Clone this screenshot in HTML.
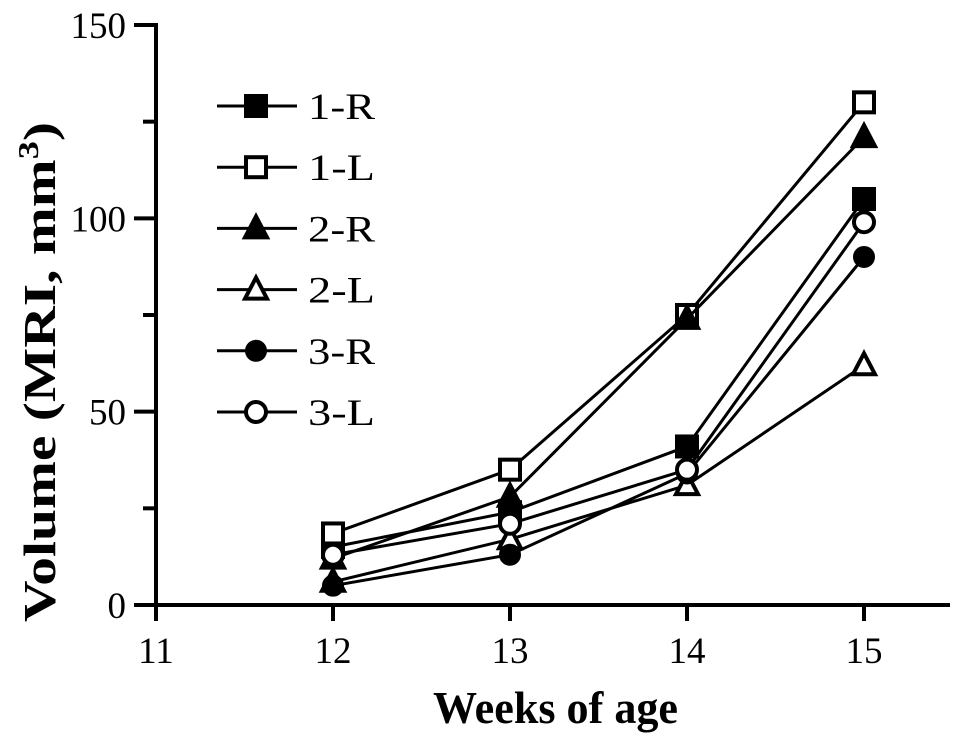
<!DOCTYPE html>
<html><head><meta charset="utf-8"><style>
body{margin:0;background:#fff}
svg{display:block;font-family:"Liberation Serif",serif}
</style></head><body>
<svg id="c" width="969" height="746"></svg>
<script>
const weeks=[12,13,14,15];
const seriesNames=["1-R","1-L","2-R","2-L","3-R","3-L"];
const s1R=[15,24,41,105];
const s1L=[18.5,35,75,130];
const s2R=[12,28,74,121];
const s2L=[6,17,31,62];
const s3R=[5,13,34,90];
const s3L=[13,21,35,99];
const xTicks=[11,12,13,14,15];
const yTicks=[0,50,100,150];
const yMinor=[25,75,125];
const seriesData=[s1R,s1L,s2R,s2L,s3R,s3L];
const markers=["fsq","osq","ftr","otr","fci","oci"];
const NS="http://www.w3.org/2000/svg";
const svg=document.getElementById('c');
const X=v=>156+(v-11)*177;
const Y=v=>605-v*(580/150);
function el(t,a,p){const e=document.createElementNS(NS,t);for(const k in a)e.setAttribute(k,a[k]);(p||svg).appendChild(e);return e;}
let ax=el('line',{x1:156,y1:Y(150)-2,x2:156,y2:607,stroke:'#000','stroke-width':4});

let bx=el('line',{x1:154,y1:605,x2:950,y2:605,stroke:'#000','stroke-width':4});

xTicks.forEach(t=>{
  el('line',{x1:X(t),y1:605,x2:X(t),y2:621,stroke:'#000','stroke-width':4});
  const tx=el('text',{x:X(t),y:663,'text-anchor':'middle','font-size':37});tx.textContent=t;
  
});
yTicks.forEach(t=>{
  el('line',{x1:134,y1:Y(t),x2:156,y2:Y(t),stroke:'#000','stroke-width':4});
  const tx=el('text',{x:126,y:Y(t)+13,'text-anchor':'end','font-size':37});tx.textContent=t;
  
});
yMinor.forEach(t=>{
  el('line',{x1:143,y1:Y(t),x2:156,y2:Y(t),stroke:'#000','stroke-width':4});
});
const xt=el('text',{x:433,y:723,'font-size':46,'font-weight':'bold',textLength:245,lengthAdjust:'spacingAndGlyphs'});xt.textContent='Weeks of age';

const yt=el('text',{transform:'translate(55,622) rotate(-90)','font-size':46,'font-weight':'bold',textLength:500,lengthAdjust:'spacingAndGlyphs'});
yt.innerHTML='Volume (MRI, mm<tspan dy="-17" font-size="29">3</tspan><tspan dy="17">)</tspan>';

function mark(type,x,y,g){
  const fill=type[0]=='f'?'#000':'#fff';const a={fill:fill,stroke:'#000','stroke-width':4};
  if(type.endsWith('sq'))el('rect',Object.assign({x:x-10,y:y-10,width:20,height:20},a),g);
  else if(type.endsWith('tr'))el('polygon',Object.assign({points:`${x},${y-12} ${x-11},${y+9} ${x+11},${y+9}`},a),g);
  else el('circle',Object.assign({cx:x,cy:y,r:(type[0]=='f'?9:10)},a),g);
}
seriesData.forEach((d,i)=>{
  const g=el('g',{});
  
  el('polyline',{points:d.map((v,j)=>X(weeks[j])+','+Y(v)).join(' '),fill:'none',stroke:'#000','stroke-width':3},g);
  d.forEach((v,j)=>mark(markers[i],X(weeks[j]),Y(v),g));
  const ly=106+i*61.2;
  const lg=el('g',{});
  
  el('line',{x1:217,y1:ly,x2:297,y2:ly,stroke:'#000','stroke-width':3},lg);
  mark(markers[i],256,ly,lg);
  const t=el('text',{x:308,y:ly+13,'font-size':37,textLength:67,lengthAdjust:'spacingAndGlyphs'},lg);t.textContent=seriesNames[i];
});
</script>
</body></html>
